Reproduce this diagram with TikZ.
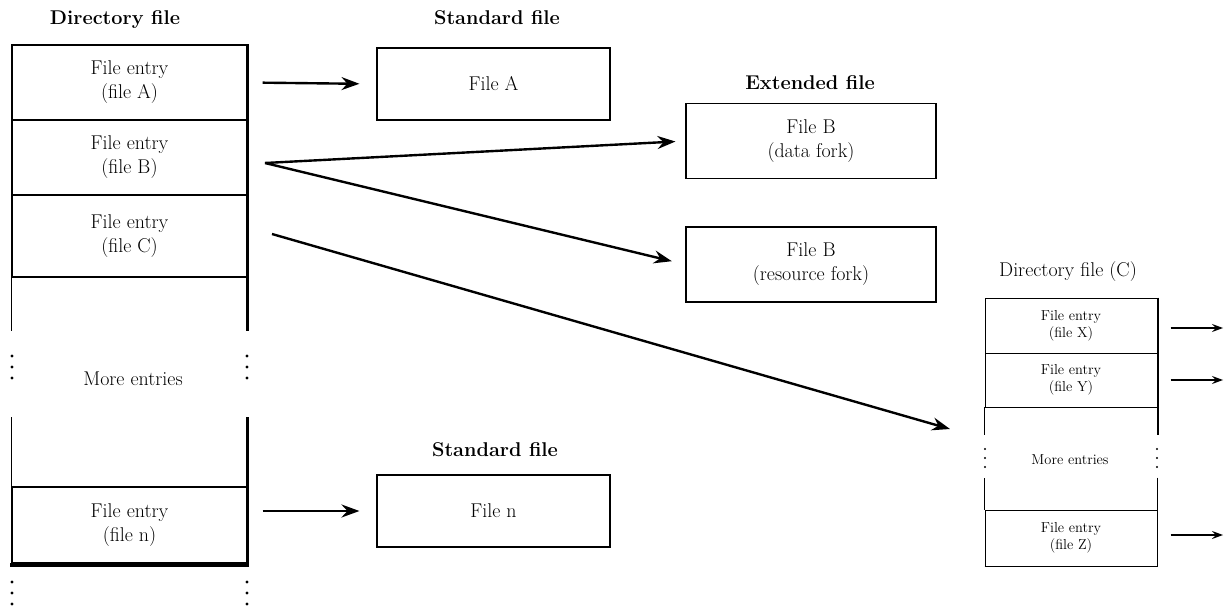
\documentclass[tikz,border=0pt]{standalone}
\usetikzlibrary{arrows.meta}
\begin{document}
\begin{tikzpicture}[x=1bp,y=-1bp,
  entry/.style={draw, line width=1.1pt, minimum width=235bp, inner sep=0, align=center, font=\fontsize{20}{24}\selectfont},
  sentry/.style={draw, line width=1pt, minimum width=172bp, inner sep=0, align=center, font=\fontsize{14.5}{17}\selectfont},
  filebox/.style={draw, line width=1.1pt, minimum width=233bp, minimum height=72bp, inner sep=0, align=center, font=\fontsize{20}{24}\selectfont},
  title/.style={font=\bfseries\fontsize{20}{24}\selectfont},
  bigarrow/.style={line width=2.4pt, -{Stealth[length=18bp,width=13bp,inset=6bp]}},
  smallarrow/.style={line width=1.1pt, -{Stealth[length=11bp,width=8bp,inset=4bp]}},
  dot/.style={fill, circle, inner sep=0, minimum size=3.4bp},
  sdot/.style={fill, circle, inner sep=0, minimum size=2.2bp}]
\useasboundingbox (0,0) rectangle (1224,608);

% ---- left directory file ----
\node[title] (dirt) at (115,20) {Directory file};
\node[entry, minimum height=75bp] (ea) at (129.5,82.5) {File entry\\(file A)};
\node[entry, minimum height=75bp] (eb) at (129.5,157.5) {File entry\\(file B)};
\node[entry, minimum height=82bp] (ec) at (129.5,236) {File entry\\(file C)};
\node[entry, minimum height=76bp] (en) at (129.5,525) {File entry\\(file n)};
\node[font=\fontsize{20}{24}\selectfont] (more) at (133,379) {More entries};
\draw[line width=1.1pt] (ec.south west) -- ++(0,53);
\draw[line width=1.1pt] (en.north west) -- ++(0,-69);
\draw[line width=3pt] (ea.north east) -- ([yshift=-53bp]ec.south east);
\draw[line width=3pt] ([yshift=69bp]en.north east) -- (en.south east);
\draw[line width=4pt] ([xshift=-1bp,yshift=-1bp]en.south west) -- ([xshift=1bp,yshift=-1bp]en.south east);
\foreach \y in {356,367,378}{
  \node[dot] at (12,\y) {}; \node[dot] at (247,\y) {};}
\foreach \y in {582,593,604}{
  \node[dot] at (12,\y) {}; \node[dot] at (247,\y) {};}

% ---- standard / extended files ----
\node[title] (sft) at (497,18) {Standard file};
\node[filebox] (fa) at (493.5,84) {File A};
\node[title] (eft) at (810,83) {Extended file};
\node[filebox, minimum width=250bp, minimum height=75bp] (fbd) at (811,141) {File B\\(data fork)};
\node[filebox, minimum width=250bp, minimum height=75bp] (fbr) at (811,264.5) {File B\\(resource fork)};
\node[title] (sfn) at (495,450) {Standard file};
\node[filebox] (fn) at (493.5,511) {File n};

% ---- right directory file (C) ----
\node[font=\fontsize{20}{24}\selectfont] (dct) at (1068,272) {Directory file (C)};
\node[sentry, minimum height=55bp] (ex) at (1071,325.5) {File entry\\(file X)};
\node[sentry, minimum height=54bp] (ey) at (1071,380) {File entry\\(file Y)};
\node[sentry, minimum height=56bp] (ez) at (1071,538) {File entry\\(file Z)};
\node[font=\fontsize{14.5}{17}\selectfont] (cmore) at (1070,460) {More entries};
\draw[line width=1pt] (ey.south west) -- ++(0,28);
\draw[line width=1pt] (ez.north west) -- ++(0,-32);
\draw[line width=2pt] (ex.north east) -- ([yshift=-28bp]ey.south east);
\draw[line width=1.4pt] ([yshift=32bp]ez.north east) -- (ez.south east);
\draw[line width=2pt] (ez.south west) -- (ez.south east);
\foreach \y in {449,458,467}{
  \node[sdot] at (985,\y) {}; \node[sdot] at (1157,\y) {};}

% ---- connectors ----
\draw[bigarrow, shorten <=15bp, shorten >=17bp] (ea.east) -- (fa.west);
\draw[bigarrow, shorten <=15bp, shorten >=17bp] (en.east |- fn.west) -- (fn.west);
\coordinate (bsrc) at (265,163);
\draw[bigarrow, shorten >=10bp] (bsrc) -- (fbd.west);
\draw[bigarrow, shorten >=14bp] (bsrc) -- (fbr.west);
\coordinate (csrc) at (272,234);
\coordinate (ctgt) at (950,429);
\draw[bigarrow] (csrc) -- (ctgt);
\coordinate (xt) at (1223,328);
\coordinate (yt) at (1223,380);
\coordinate (zt) at (1223,535);
\draw[smallarrow, shorten <=13bp] (ex.east |- xt) -- (xt);
\draw[smallarrow, shorten <=13bp] (ey.east |- yt) -- (yt);
\draw[smallarrow, shorten <=13bp] (ez.east |- zt) -- (zt);
\end{tikzpicture}
\end{document}
